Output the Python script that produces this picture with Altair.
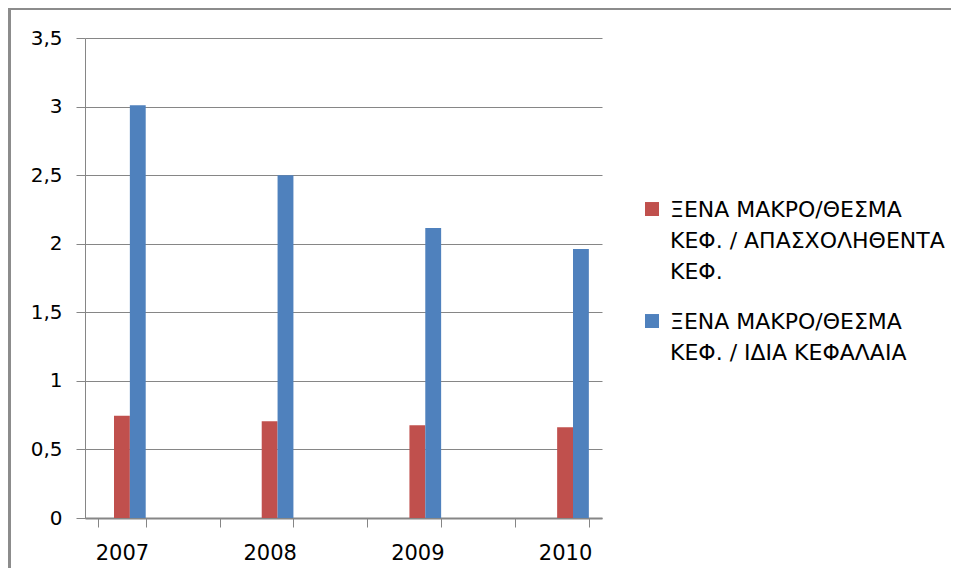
import altair as alt
import pandas as pd

years = ["2007", "2008", "2009", "2010"]
slots = ["2007", "g1", "2008", "g2", "2009", "g3", "2010"]
series_a = "ΞΕΝΑ ΜΑΚΡΟ/ΘΕΣΜΑ ΚΕΦ. / ΑΠΑΣΧΟΛΗΘΕΝΤΑ ΚΕΦ."
series_b = "ΞΕΝΑ ΜΑΚΡΟ/ΘΕΣΜΑ ΚΕΦ. / ΙΔΙΑ ΚΕΦΑΛΑΙΑ"
values_a = [0.745, 0.705, 0.676, 0.662]
values_b = [3.01, 2.50, 2.115, 1.962]
colors = ["#C0504D", "#4F81BD"]
y_ticks = [0, 0.5, 1, 1.5, 2, 2.5, 3, 3.5]

rows = []
for y, a, b in zip(years, values_a, values_b):
    rows.append({"year": y, "series": series_a, "value": a})
    rows.append({"year": y, "series": series_b, "value": b})
df = pd.DataFrame(rows)

FONT = "DejaVu Sans"
GRAY = "#868686"

label_expr = (
    f"datum.label == '{series_a}' ? ['ΞΕΝΑ ΜΑΚΡΟ/ΘΕΣΜΑ', 'ΚΕΦ. / ΑΠΑΣΧΟΛΗΘΕΝΤΑ', 'ΚΕΦ.'] : "
    f"['ΞΕΝΑ ΜΑΚΡΟ/ΘΕΣΜΑ', 'ΚΕΦ. / ΙΔΙΑ ΚΕΦΑΛΑΙΑ']"
)

bars = alt.Chart(df).mark_bar().encode(
    x=alt.X(
        "year:N",
        scale=alt.Scale(domain=slots, paddingInner=0.356, paddingOuter=0.178),
        axis=alt.Axis(
            title=None,
            labelAngle=0,
            labelExpr="indexof(['2007','2008','2009','2010'], datum.label) >= 0 ? datum.label : ''",
            tickBand="extent",
            tickSize=9,
            tickColor=GRAY,
            domainColor=GRAY,
            domainWidth=2,
            labelPadding=15,
            labelFont=FONT,
            labelFontSize=21,
            labelColor="#000000",
        ),
    ),
    xOffset=alt.XOffset(
        "series:N",
        scale=alt.Scale(domain=[" ", series_a, series_b], paddingInner=0, paddingOuter=0),
    ),
    y=alt.Y(
        "value:Q",
        scale=alt.Scale(domain=[0, 3.5], nice=False),
        axis=alt.Axis(
            title=None,
            values=y_ticks,
            labelExpr="replace(toString(datum.value), '.', ',')",
            gridColor=GRAY,
            gridWidth=1,
            tickSize=9,
            tickColor=GRAY,
            domainColor=GRAY,
            labelPadding=14,
            labelFont=FONT,
            labelFontSize=20,
            labelColor="#000000",
        ),
    ),
    color=alt.Color(
        "series:N",
        scale=alt.Scale(domain=[series_a, series_b], range=colors),
        legend=alt.Legend(
            title=None,
            orient="none",
            legendX=556,
            legendY=151,
            symbolType="M-1,0.29H1V2.29H-1Z",
            symbolSize=196,
            symbolStrokeWidth=0,
            labelOffset=7,
            labelBaseline="top",
            labelExpr=label_expr,
            labelFont=FONT,
            labelFontSize=22,
            labelColor="#000000",
            labelLimit=400,
            rowPadding=18,
            padding=0,
        ),
    ),
)

border_left = alt.Chart(df).mark_rule(color="#8c8c8c", strokeWidth=3).encode(
    x=alt.value(-76), y=alt.value(-30), y2=alt.value(560)
)
border_top = alt.Chart(df).mark_rule(color="#8c8c8c", strokeWidth=3).encode(
    x=alt.value(-76), x2=alt.value(870), y=alt.value(-30)
)

chart = (
    alt.layer(bars, border_left, border_top)
    .properties(
        width=517,
        height=480,
        autosize=alt.AutoSizeParams(type="none"),
        padding={"left": 77, "top": 30, "right": 349, "bottom": 50},
    )
    .configure(style={"guide-label": {"lineHeight": 31}})
    .configure_view(stroke=None)
)

chart.save("out.html", embed_options={"renderer": "svg", "actions": False})
